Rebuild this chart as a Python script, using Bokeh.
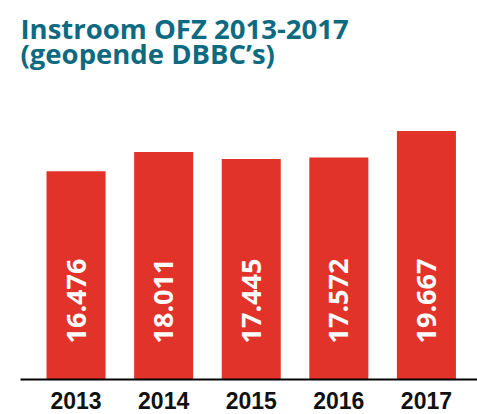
from bokeh.plotting import figure
from bokeh.models import ColumnDataSource, Range1d, FixedTicker, Title
from bokeh.core.properties import value
from bokeh.embed import file_html
from bokeh.resources import INLINE
import math

years = ["2013", "2014", "2015", "2016", "2017"]
instroom = [16476, 18011, 17445, 17572, 19667]
labels = [f"{v:,}".replace(",", ".") for v in instroom]

RED = "#e2332a"
TEAL = "#0d6a80"

src = ColumnDataSource(dict(x=list(range(len(years))), top=instroom, label=labels))

p = figure(width=477, height=414, output_backend="svg", toolbar_location=None,
           x_range=Range1d(-0.634, 4.583), y_range=Range1d(0, 23979),
           y_axis_location=None, min_border_left=20, min_border_right=0,
           min_border_top=76, min_border_bottom=35, title=None)
p.outline_line_color = None
p.xgrid.visible = False
p.ygrid.visible = False
p.background_fill_color = "white"
p.border_fill_color = "white"

p.add_layout(Title(text="Instroom OFZ 2013-2017\n(geopende DBBC\u2019s)", text_font="Open Sans",
                   text_font_size="27.5px", text_font_style="bold", text_color=TEAL,
                   align="left", standoff=8, text_line_height=0.7), "above")

p.vbar(x="x", top="top", width=0.674, bottom=0, source=src, fill_color=RED, line_color=None)
p.text(x="x", y=0, text="label", source=src, angle=math.pi / 2, y_offset=-36,
       text_align="left", text_baseline="middle", text_color="white",
       text_font=value("Open Sans"), text_font_size="27px", text_font_style="bold")

ax = p.xaxis[0]
ax.ticker = FixedTicker(ticks=list(range(len(years))))
ax.major_label_overrides = {i: y for i, y in enumerate(years)}
ax.axis_line_width = 2
ax.axis_line_color = "black"
ax.major_tick_line_color = None
ax.minor_tick_line_color = None
ax.major_tick_out = 0
ax.major_tick_in = 0
ax.major_label_standoff = 12
ax.major_label_text_font = "Liberation Sans"
ax.major_label_text_font_style = "bold"
ax.major_label_text_font_size = "23px"
ax.major_label_text_color = "#111111"

open("out.html", "w").write(file_html(p, INLINE))
